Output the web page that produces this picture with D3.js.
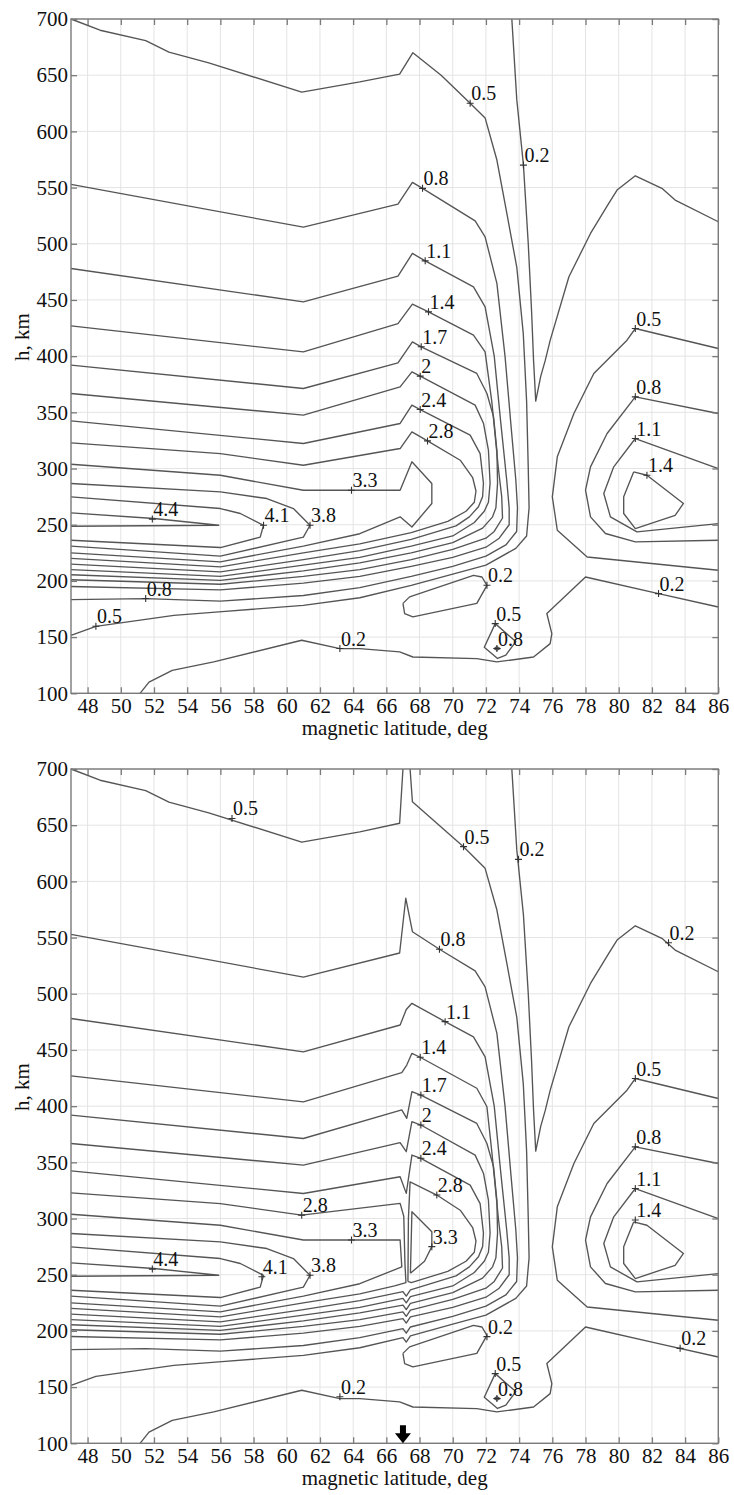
<!DOCTYPE html>
<html><head><meta charset="utf-8">
<script src="https://cdn.jsdelivr.net/npm/d3@7"></script>
<style>body{margin:0;background:#fff}svg{display:block}svg text{font-family:"Liberation Serif","Times New Roman",serif}</style>
</head><body><svg id="c" width="734" height="1495"></svg>
<script>
// ---------- axis ticks ----------
const latTicks = [48,50,52,54,56,58,60,62,64,66,68,70,72,74,76,78,80,82,84,86];
const hTicks = [100,150,200,250,300,350,400,450,500,550,600,650,700];
const xLabel = "magnetic latitude, deg";
const yLabel = "h, km";

// ---------- contours shared by both panels [lat, h] ----------
const c02_top = [[73.56,700],[73.86,628],[74.26,570],[74.55,500],[74.75,440],[74.87,396],[75.0,360],[75.3,382],[75.57,396],[75.87,414],[77,470.6],[78.3,509.2],[79.4,536],[79.9,547.8],[81,560.5],[82.6,549.3],[83.4,538.9],[86,519.6]];
const c02_bottom = [[51.16,100],[51.7,110],[53.1,120.4],[55.6,127.9],[60.9,147.2],[63.2,139.8],[64.4,139.8],[66.8,136.8],[67.6,132.3],[71.45,130.9],[72.66,127.9],[74.87,132.3],[75.87,144.2],[75.97,153.1],[75.67,171],[78,203.5],[82.4,188.7],[86,176.8]];
const c02_island = [[67.0,180],[67.4,185.8],[71.25,205],[71.76,203.5],[72.06,196.1],[71.45,180],[67.6,168],[67.1,171],[67.0,180]];
const c05_small = [[72.56,162],[73.8,146],[73.2,134],[72.7,131],[71.9,141],[72.56,162]];
const c08_small = [[72.66,141.5],[72.85,139.8],[72.66,138.3],[72.5,139.8],[72.66,141.5]];
const c05_right = [[86,406.8],[81,424.6],[80.5,414.2],[78.5,384.6],[77.3,349],[76.3,310.4],[76.0,274.8],[76.3,245.1],[78.1,221.3],[86,209.5]];
const c08_right = [[86,349],[81,363.8],[79.3,331.2],[78.3,301.5],[78,280.7],[78.3,257],[79.2,242.2],[81,234.7],[86,236.2]];
const c11_right = [[86,300],[81,326.7],[79.7,301.5],[79.1,277.8],[79.5,257],[81.1,243.6],[86,251]];
const c14_right = [[80.9,297],[81.7,294],[83.9,268.9],[83.4,258.4],[81,246.6],[80.3,260],[80.3,274.8],[80.9,297]];
const c38 = [[47,286.7],[56,279.2],[58.8,273.3],[60.4,264.4],[61.4,249.5],[61,239],[56,222],[47,231]];
const c41 = [[47,274.8],[56,264.4],[57.2,260],[58.6,249.5],[58.4,239],[56,229.7],[47,236.2]];
const c44 = [[47,260.5],[52,255.5],[55.9,249.5],[47,248.6]];

// ---------- panel 1 contours ----------
const p1_05 = [[47,700],[48.75,690],[51.5,680.7],[52.9,670.6],[55.3,661],[60.9,635],[64.4,644],[66.8,651],[67.6,670],[69.3,650],[71.05,625],[71.95,612],[72.66,574.5],[73.26,527],[73.86,479],[74.25,420],[74.45,360],[74.55,300],[74.6,265],[74.45,240],[73.8,229],[72,214],[70,206],[67.5,196],[64.4,185],[61,178.3],[55.9,172.4],[53.2,169.4],[48.5,159.6],[47,151.6]];
const p1_08 = [[47,552.8],[61,514.8],[66.7,535.3],[67.57,554.6],[68.18,549.3],[71.35,520.4],[71.95,506.2],[72.66,464.7],[73.15,400],[73.5,340],[73.8,290],[73.9,265],[73.85,244],[73.2,232],[72,222],[70,213],[67.5,204],[64.4,194],[61,187],[56,182],[51.5,184.3],[47,183.4]];
const p1_11 = [[47,478],[61,448.3],[66.7,471.2],[67.57,491.4],[68.34,484.8],[71.25,461.7],[71.95,443.9],[72.5,400],[72.9,340],[73.25,290],[73.4,265],[73.4,250],[72.8,238],[72,230],[70,221],[67.5,213],[64.4,204],[61,198],[56,192],[47,195]];
const p1_14 = [[47,427],[61,403.8],[66.7,429],[67.57,446.3],[68.54,439.4],[71.25,418.7],[71.95,403.8],[72.35,360],[72.75,300],[72.95,275],[73.0,256],[72.5,244],[72,238],[70,228],[67.5,219],[64.4,210],[61,204],[56,197],[47,201]];
const p1_17 = [[47,392],[61,371.2],[66.7,394.1],[67.57,412.7],[68.1,408.3],[71.45,384.6],[72.06,366.8],[72.46,346],[72.66,316.3],[72.7,287],[72.6,265],[72.4,257],[71.8,247],[70,234],[67.5,225],[64.4,216],[61,209],[56,200.5],[47,205.5]];
const p1_20 = [[47,366.8],[61,347.5],[66.83,372.7],[67.54,386],[68.04,382.2],[71.35,356.4],[71.85,340.3],[72.15,316.3],[72.25,287],[72.15,270],[71.9,262],[71.3,252],[70,240],[67.5,231],[64.4,221],[61,214],[56,204],[47,210]];
const p1_24 = [[47,342.4],[61,322.3],[66.83,340.1],[67.54,356.4],[68.04,352.5],[71.05,329.7],[71.65,313.3],[71.85,287],[71.8,275],[71.55,266],[71.0,257],[70.2,249],[67.5,237],[64.4,227],[61,219],[56,208],[47,215]];
const p1_28 = [[47,322.8],[56,313.3],[61,302.9],[66.83,317.8],[67.54,332.6],[68.48,324.6],[70.45,307.4],[71.2,292],[71.4,280],[71.3,270],[70.8,262],[69.7,253],[67.5,243],[64.4,233],[61,225],[56,212.5],[47,220]];
const p1_33 = [[47,303.8],[56,294],[61,280.7],[66.83,280.7],[67.54,306],[68.74,286.7],[68.74,268.9],[67.54,248],[66.83,257],[64.4,242],[61,231],[56,217],[47,225]];

// ---------- panel 2 contours ----------
const p2_05a = [[47,700],[48.75,690],[51.5,680.7],[52.9,670.6],[55.3,661],[60.9,635],[64.4,644],[66.8,651.7],[67.0,700]];
const p2_05b = [[67.43,700],[67.57,670.9],[70.65,630.9],[71.95,611.6],[72.66,574.5],[73.26,527],[73.86,479],[74.25,420],[74.45,360],[74.55,300],[74.6,265],[74.45,240],[73.8,229],[72,214],[70,206],[67.45,195.5],[67.2,190],[67.0,194],[64.4,185],[61,178.3],[55.9,172.4],[53.2,169.4],[48.5,159.6],[47,151.6]];
const p2_08 = [[47,552.8],[61,514.8],[66.8,536.3],[67.17,585],[67.57,555.2],[69.2,539.6],[71.35,520.4],[71.95,506.2],[72.66,464.7],[73.15,400],[73.5,340],[73.8,290],[73.9,265],[73.85,244],[73.2,232],[72,222],[70,213],[67.45,203.5],[67.2,198],[67.0,202],[64.4,194],[61,187],[56,182],[51.5,184.3],[47,183.4]];
const p2_11 = [[47,478],[61,448.3],[66.83,472.2],[67.2,486],[67.54,491.5],[69.54,475.2],[71.25,461.7],[71.95,443.9],[72.5,400],[72.9,340],[73.25,290],[73.4,265],[73.4,250],[72.8,238],[72,230],[70,221],[67.45,212.5],[67.2,207],[67.0,211],[64.4,204],[61,198],[56,192],[47,195]];
const p2_14 = [[47,427],[61,403.8],[66.93,429.8],[67.23,436.6],[67.54,447],[68.04,443.5],[71.45,415.9],[72.06,399.5],[72.35,360],[72.75,300],[72.95,275],[73.0,256],[72.5,244],[72,238],[70,228],[67.45,218.5],[67.2,213],[67.0,217],[64.4,210],[61,204],[56,197],[47,201]];
const p2_17 = [[47,392],[61,371.2],[66.93,396.6],[67.23,389.2],[67.54,412.9],[68.08,409.9],[71.45,384.6],[72.06,366.8],[72.46,346],[72.66,316.3],[72.7,287],[72.6,265],[72.4,257],[71.8,247],[70,234],[67.45,224.5],[67.2,219],[67.0,223],[64.4,216],[61,209],[56,200.5],[47,205.5]];
const p2_20 = [[47,366.8],[61,347.5],[66.83,367.5],[67.2,359.5],[67.54,386.2],[68.08,383.2],[71.35,356.4],[71.85,340.3],[72.15,316.3],[72.25,287],[72.15,270],[71.9,262],[71.3,252],[70,240],[67.45,230.5],[67.2,225],[67.0,229],[64.4,221],[61,214],[56,204],[47,210]];
const p2_24 = [[47,342.4],[61,322.3],[66.83,337.2],[67.2,322.4],[67.54,356.5],[68.08,353.6],[71.05,329.7],[71.65,313.3],[71.85,287],[71.8,275],[71.55,266],[71.0,257],[70.2,249],[67.45,236.5],[67.2,231],[67.0,235],[64.4,227],[61,219],[56,208],[47,215]];
const p2_28a = [[47,322.8],[56,313.3],[60.9,303],[66.83,313.5],[67.05,302],[67.12,260],[67.18,243],[66.5,240],[64.4,233],[61,225],[56,212.5],[47,220]];
const p2_28b = [[67.3,244],[67.33,300],[67.43,332.6],[69.04,320.9],[70.45,307.4],[71.2,292],[71.4,280],[71.3,270],[70.8,262],[69.7,253],[67.5,243],[67.3,244]];
const p2_33a = [[47,303.8],[56,294],[61,280.9],[66.83,280.9],[66.93,257],[64.4,242],[61,231],[56,217],[47,225]];
const p2_33b = [[67.45,251.3],[67.54,306],[68.74,288.3],[68.74,275],[68.3,262],[67.45,251.3]];

// ---------- contour labels [text, lat, h] ----------
const p1_labels = [["0.5",71.05,625],["0.2",74.26,570],["0.8",68.18,549.3],["1.1",68.34,484.8],["1.4",68.54,439.4],["1.7",68.1,408.3],["2",68.04,382.2],["2.4",68.04,352.5],["2.8",68.48,324.6],["3.3",63.9,280.7],["4.4",51.9,255],["4.1",58.6,249.5],["3.8",61.4,249.5],["0.8",51.5,184.3],["0.5",48.5,159.6],["0.2",63.2,139.8],["0.2",72.06,196.1],["0.5",72.56,162],["0.8",72.66,139.8],["0.2",82.4,188.7],["0.5",81,424.6],["0.8",81,363.8],["1.1",81,326.7],["1.4",81.7,294]];
const p2_labels = [["0.5",56.7,656],["0.5",70.65,630.9],["0.2",73.96,619.6],["0.2",83.0,545.4],["0.8",69.2,539.6],["1.1",69.54,475.2],["1.4",68.04,443.5],["1.7",68.08,409.9],["2",68.08,383.2],["2.4",68.08,353.6],["2.8",69.04,320.9],["3.3",68.74,275],["2.8",60.9,303],["3.3",63.9,280.9],["4.4",51.9,255],["4.1",58.5,248.2],["3.8",61.4,249.5],["0.5",81,424.6],["0.8",81,363.8],["1.1",81,326.7],["1.4",81,298.7],["0.2",72.06,194.9],["0.2",83.7,184.5],["0.5",72.56,162],["0.8",72.66,139.8],["0.2",63.2,141.4]];
const arrowLat = 67.0;

const shared = [c02_top,c02_bottom,c02_island,c05_small,c08_small,c05_right,c08_right,c11_right,c14_right,c38,c41,c44];
const panels = [
  {top:19, bottom:693.3, lines:[p1_05,p1_08,p1_11,p1_14,p1_17,p1_20,p1_24,p1_28,p1_33].concat(shared), labels:p1_labels, arrow:false},
  {top:769, bottom:1443.3, lines:[p2_05a,p2_05b,p2_08,p2_11,p2_14,p2_17,p2_20,p2_24,p2_28a,p2_28b,p2_33a,p2_33b].concat(shared), labels:p2_labels, arrow:true}
];

const svg = d3.select("#c");
const L = 71, R = 718.3;

panels.forEach(p => {
  const x = d3.scaleLinear().domain([47,86]).range([L,R]);
  const y = d3.scaleLinear().domain([100,700]).range([p.bottom,p.top]);
  const g = svg.append("g");

  // grid
  g.append("g").selectAll("line").data(latTicks).join("line")
    .attr("x1",d=>x(d)).attr("x2",d=>x(d)).attr("y1",p.top).attr("y2",p.bottom)
    .attr("stroke","#e4e4e4").attr("stroke-width",1);
  g.append("g").selectAll("line").data(hTicks).join("line")
    .attr("y1",d=>y(d)).attr("y2",d=>y(d)).attr("x1",L).attr("x2",R)
    .attr("stroke","#e4e4e4").attr("stroke-width",1);

  // contours
  const line = d3.line().x(d=>x(d[0])).y(d=>y(d[1]));
  g.append("g").selectAll("path").data(p.lines).join("path")
    .attr("d",line).attr("fill","none").attr("stroke","#555")
    .attr("stroke-width",1.35).attr("stroke-linejoin","round");

  // axes
  const styleAxis = sel => {
    sel.select(".domain").remove();
    sel.selectAll(".tick line").attr("stroke","#7a7a7a").attr("stroke-width",1.3);
    sel.selectAll("text").attr("font-family",null).attr("font-size",21).attr("fill","#111");
  };
  g.append("g").attr("transform",`translate(0,${p.bottom})`)
    .call(d3.axisBottom(x).tickValues(latTicks).tickSize(-6).tickPadding(5).tickFormat(d3.format("d"))).call(styleAxis);
  g.append("g").attr("transform",`translate(0,${p.top})`)
    .call(d3.axisTop(x).tickValues(latTicks).tickSize(-6).tickFormat("")).call(styleAxis);
  g.append("g").attr("transform",`translate(${L},0)`)
    .call(d3.axisLeft(y).tickValues(hTicks).tickSize(-6).tickPadding(3).tickFormat(d3.format("d"))).call(styleAxis);
  g.append("g").attr("transform",`translate(${R},0)`)
    .call(d3.axisRight(y).tickValues(hTicks).tickSize(-6).tickFormat("")).call(styleAxis);

  g.append("rect").attr("x",L).attr("y",p.top).attr("width",R-L).attr("height",p.bottom-p.top)
    .attr("fill","none").attr("stroke","#7a7a7a").attr("stroke-width",1.4);

  // contour labels
  const lg = g.append("g");
  lg.selectAll("path").data(p.labels).join("path")
    .attr("d",d=>`M${x(d[1])-3.5},${y(d[2])}h7M${x(d[1])},${y(d[2])-3.5}v7`)
    .attr("stroke","#333").attr("stroke-width",1.1);
  lg.selectAll("text").data(p.labels).join("text")
    .attr("x",d=>x(d[1])+1).attr("y",d=>y(d[2])-3)
    .attr("font-size",20).attr("fill","#111")
    .text(d=>d[0]);

  // axis titles
  g.append("text").attr("x",(L+R)/2).attr("y",p.bottom+42).attr("text-anchor","middle")
    .attr("font-size",21).attr("fill","#111").text(xLabel);
  g.append("text").attr("transform",`translate(29,${(p.top+p.bottom)/2-19}) rotate(-90)`)
    .attr("text-anchor","middle").attr("font-size",21).attr("fill","#111").text(yLabel);

  if (p.arrow) {
    const ax = x(arrowLat), yb = p.bottom;
    g.append("path")
      .attr("d",`M${ax-3},${yb-18}h6v8h5l-8,10l-8,-10h5z`)
      .attr("fill","#000");
  }
});
</script></body></html>
